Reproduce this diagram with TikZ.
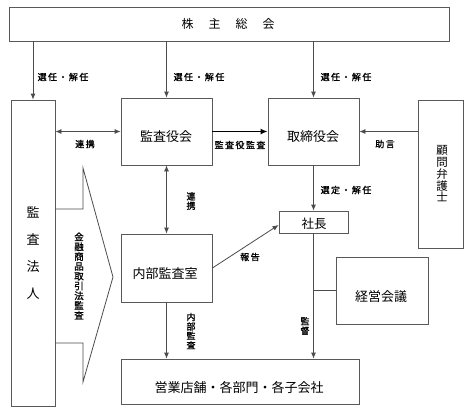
\documentclass[tikz,border=0pt]{standalone}
\usepackage{fontspec}
\newfontfamily\jp{Noto Sans CJK JP}
\newfontfamily\jpb[FakeBold=1.2]{Noto Sans CJK JP}
\newfontfamily\jpls[LetterSpace=16,FakeBold=1.2]{Noto Sans CJK JP}
\usetikzlibrary{arrows.meta}
\begin{document}
\begin{tikzpicture}[x=1pt,y=-1pt,
  box/.style={draw=black!65, line width=0.8pt, inner sep=0pt, rectangle},
  tip/.tip={Latex[length=6pt,width=5pt]},
  arr/.style={draw=black!70, line width=0.8pt, -tip},
  darr/.style={draw=black!70, line width=0.8pt, tip-tip},
  big/.style={font=\jp\fontsize{13}{15}\selectfont, inner sep=0pt},
  lbl/.style={font=\jpls\fontsize{9}{10}\selectfont, inner sep=0pt},
  vl/.style={font=\jpb\fontsize{9}{9.4}\selectfont, inner sep=0pt, align=center}]
\useasboundingbox[fill=white] (0,0) rectangle (468,410);

% boxes
\node[box, minimum width=440pt, minimum height=34pt] (top) at (229,24) {};
\node[box, minimum width=44pt, minimum height=306pt] (ah) at (33,253) {};
\node[box, minimum width=91pt, minimum height=67pt] (kk) at (166.5,131.5) {};
\node[box, minimum width=91pt, minimum height=67pt] (tr) at (313.5,131.5) {};
\node[box, minimum width=45pt, minimum height=148pt] (km) at (440.5,174) {};
\node[box, minimum width=91pt, minimum height=68pt] (nb) at (166.5,268) {};
\node[box, minimum width=69pt, minimum height=22pt] (sh) at (313.5,222) {};
\node[box, minimum width=92pt, minimum height=67pt] (kg) at (382,290.5) {};
\node[box, minimum width=238pt, minimum height=45pt] (eg) at (240,381.5) {};

% box texts
\node[font=\jp\fontsize{12}{14}\selectfont, inner sep=0pt] (ttop) at (228,24) {株\hspace{15pt}主\hspace{15pt}総\hspace{15pt}会};
\node[font=\jp\fontsize{13}{27}\selectfont, inner sep=0pt, align=center] (tah) at (33,253) {監\\査\\法\\人};
\node[big] (tkk) at (166,137) {監査役会};
\node[big] (ttr) at (313,137) {取締役会};
\node[font=\jp\fontsize{11.5}{11.75}\selectfont, inner sep=0pt, align=center] (tkm) at (442,174) {顧\\問\\弁\\護\\士};
\node[big] (tnb) at (165,274) {内部監査室};
\node[font=\jp\fontsize{12.5}{14}\selectfont, inner sep=0pt] (tsh) at (314,224) {社長};
\node[big] (tkg) at (381,297) {経営会議};
\node[big] (teg) at (239,388) {営業店舗・各部門・各子会社};

% connectors
\draw[arr] (ah.north |- top.south) -- (ah.north);
\draw[arr] (kk.north |- top.south) -- (kk.north);
\draw[arr] (tr.north |- top.south) -- (tr.north);
\draw[darr] (kk.west -| ah.east) -- (kk.west);
\draw[draw=black, line width=1.6pt, -{Latex[length=7pt,width=6pt]}] (kk.east) -- (tr.west);
\draw[arr] (tr.east -| km.west) -- (tr.east);
\draw[darr] (kk.south) -- (nb.north);
\draw[arr] (tr.south) -- (sh.north);
\draw[arr] (nb.east) -- ([yshift=-3pt]sh.west);
\draw[arr] (nb.south) -- (nb.south |- eg.north);
\draw[arr] (sh.south) -- (sh.south |- eg.north);
\draw[draw=black!70, line width=0.8pt] (kg.west -| sh.south) -- (kg.west);

% chevron
\draw[draw=black!70, line width=0.8pt] (55,209) -- (83,209) -- (83,168) -- (113,277) -- (83,382) -- (83,343) -- (55,343);

% labels
\node[lbl] (l1) at (63,77) {選任・解任};
\node[lbl] (l2) at (199,77) {選任・解任};
\node[lbl] (l3) at (346,77) {選任・解任};
\node[lbl] (l4) at (85,144) {連携};
\node[lbl] (l5) at (240,145) {監査役監査};
\node[lbl] (l6) at (385,144) {助言};
\node[lbl] (l7) at (346,190) {選定・解任};
\node[lbl] (l8) at (250,257) {報告};
\node[vl] (v1) at (191,201) {連\\携};
\node[vl] (v2) at (191,331) {内\\部\\監\\査};
\node[vl] (v3) at (305,326) {監\\督};
\node[font=\jpb\fontsize{9.5}{9.8}\selectfont, inner sep=0pt, align=center] (v4) at (79,276) {金\\融\\商\\品\\取\\引\\法\\監\\査};
\end{tikzpicture}
\end{document}
